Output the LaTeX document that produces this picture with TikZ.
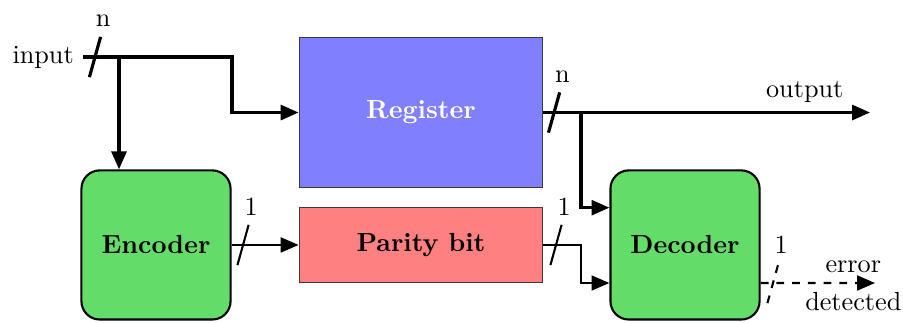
\documentclass[tikz,border=0pt]{standalone}
\usepackage{tikz}
\usetikzlibrary{arrows.meta,calc,positioning}
\definecolor{codecgreen}{RGB}{100,220,105}
\definecolor{regblue}{RGB}{128,128,255}
\definecolor{parred}{RGB}{255,128,128}
\definecolor{rim}{HTML}{3A3A3A}

\tikzset{
  regbox/.style={draw=rim,minimum width=3.27cm,minimum height=2.02cm,inner sep=0pt,font=\bfseries},
  codec/.style={draw=black,thick,rounded corners=7pt,fill=codecgreen,minimum width=2.0cm,minimum height=2.0cm,font=\bfseries},
  bus/.style={-{Triangle[length=2.4mm,width=2mm]},very thick},
  bit/.style={-{Triangle[length=2.4mm,width=2mm]},thick},
}

\begin{document}
\begin{tikzpicture}
  \useasboundingbox (0,0) rectangle (12.109,4.318);

  % blocks
  \node[regbox,fill=regblue,text=white] (reg) at (5.646,2.809) {Register};
  \node[regbox,fill=parred,minimum height=1.0cm] (par) at (5.646,1.033) {Parity bit};
  \node[codec] (enc) at (2.092,1.033) {Encoder};
  \node[codec] (dec) at (9.186,1.033) {Decoder};
  \node[anchor=east] (in) at (1.113,3.554) {input};

  \coordinate (split) at (1.596,3.554);
  \coordinate (bend) at (3.111,3.554);
  \coordinate (tap) at (7.791,2.809);
  \coordinate (out) at (11.667,2.809);
  \coordinate (err) at (11.734,0.523);

  % connectors
  \draw[bus] (in.east) -- (bend) |- (reg.west);
  \draw[bus] (split) -- (split |- enc.north);
  \draw[bit] (enc.east) -- (par.west);
  \draw[bus] (reg.east) -- (out) node[pos=0.8,above] (outlbl) {output};
  \draw[bus] (tap) |- ($(dec.west)+(0,0.5)$);
  \draw[bit] (par.east) -- (par.east -| tap) |- ($(dec.west)+(0,-0.51)$);
  \draw[bit,dashed] ($(dec.east)+(0,-0.51)$) -- (err)
    node[pos=0.81,above] (errlbl) {error}
    node[pos=0.81,below] (detlbl) {detected};

  % bus width marks
  \coordinate (m1) at (1.274,3.554);
  \coordinate (m2) at (3.259,1.033);
  \coordinate (m3) at (7.43,2.809);
  \coordinate (m4) at (7.456,1.033);
  \coordinate (m5) at (10.366,0.523);
  \foreach \m/\w/\lw/\st in {m1/n/very thick/solid,m2/1/thick/solid,m3/n/very thick/solid,m4/1/thick/solid,m5/1/thick/dashed}
    \draw[\lw,\st] ($(\m)+(-0.075,-0.27)$) -- ($(\m)+(0.075,0.27)$)
      node[above,xshift=1pt,solid] (lbl-\m) {\w};
\end{tikzpicture}
\end{document}
